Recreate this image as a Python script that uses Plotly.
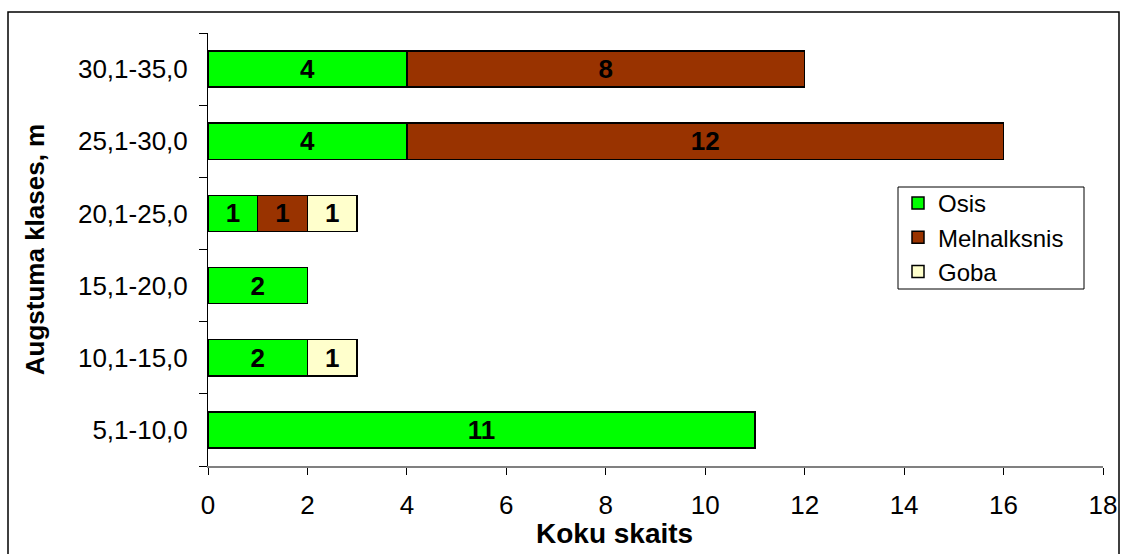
import plotly.graph_objects as go

# Height classes (bottom to top) and tree counts per species
classes = ["5,1-10,0", "10,1-15,0", "15,1-20,0", "20,1-25,0", "25,1-30,0", "30,1-35,0"]
osis = [11, 2, 2, 1, 4, 4]
melnalksnis = [0, 0, 0, 1, 12, 8]
goba = [0, 1, 0, 1, 0, 0]

series = [
    ("Osis", osis, "#00FF00"),
    ("Melnalksnis", melnalksnis, "#993300"),
    ("Goba", goba, "#FFFFCC"),
]

FONT = "Liberation Sans, Arial, sans-serif"
L, R, T, B = 208, 18, 33, 88
W, H = 1121, 554
PW, PH = W - L - R, H - T - B


def px_x(p):
    return (p - L) / PW


def px_y(p):
    return (H - B - p) / PH


fig = go.Figure()
for name, vals, color in series:
    fig.add_trace(go.Bar(
        y=classes,
        x=vals,
        name=name,
        orientation="h",
        marker=dict(color=color, line=dict(color="black", width=1.5)),
        text=[str(v) if v else "" for v in vals],
        textposition="inside",
        insidetextanchor="middle",
        textangle=0,
        textfont=dict(family=FONT, size=26, color="black", weight="bold"),
        constraintext="none",
    ))

fig.update_layout(
    barmode="stack",
    bargap=0.5,
    width=W,
    height=H,
    margin=dict(l=L, r=R, t=T, b=B),
    paper_bgcolor="white",
    plot_bgcolor="white",
    font=dict(family=FONT, size=26, color="black"),
    uniformtext=dict(minsize=26, mode="show"),
    legend=dict(
        x=px_x(898), y=px_y(181), xanchor="left", yanchor="top",
        bgcolor="rgba(0,0,0,0)", borderwidth=0,
        font=dict(family=FONT, size=24, color="black"),
        traceorder="normal",
        itemwidth=30,
        tracegroupgap=0,
    ),
    xaxis=dict(
        range=[0, 18],
        dtick=2,
        automargin=False,
        showgrid=False,
        zeroline=False,
        showline=True,
        linecolor="#808080",
        linewidth=2,
        ticks="outside",
        ticklen=7,
        tickcolor="black",
        tickfont=dict(family=FONT, size=26),
        ticklabelstandoff=8,
        ticklabeloverflow="allow",
    ),
    yaxis=dict(
        automargin=False,
        showgrid=False,
        showline=True,
        linecolor="black",
        linewidth=1,
        ticks="outside",
        ticklen=8,
        tickcolor="black",
        tickson="boundaries",
        tickfont=dict(family=FONT, size=26),
        ticklabelstandoff=14,
        title=dict(text="<b>Augstuma klases, m</b>", font=dict(family=FONT, size=26), standoff=25),
    ),
    annotations=[dict(
        text="<b>Koku skaits</b>", xref="paper", yref="paper",
        x=px_x(614), y=px_y(533), xanchor="center", yanchor="middle",
        showarrow=False, font=dict(family=FONT, size=28, color="black"),
    )],
    shapes=[
        # outer chart frame
        dict(
            type="rect", xref="paper", yref="paper",
            x0=px_x(8), x1=px_x(1119),
            y0=px_y(560), y1=px_y(12),
            line=dict(color="black", width=1.5), fillcolor="rgba(0,0,0,0)",
            layer="below",
        ),
        # legend frame
        dict(
            type="rect", xref="paper", yref="paper",
            x0=px_x(898), x1=px_x(1084),
            y0=px_y(289), y1=px_y(187),
            line=dict(color="black", width=1), fillcolor="rgba(0,0,0,0)",
            layer="above",
        ),
    ],
)

fig.write_html("out.html")
